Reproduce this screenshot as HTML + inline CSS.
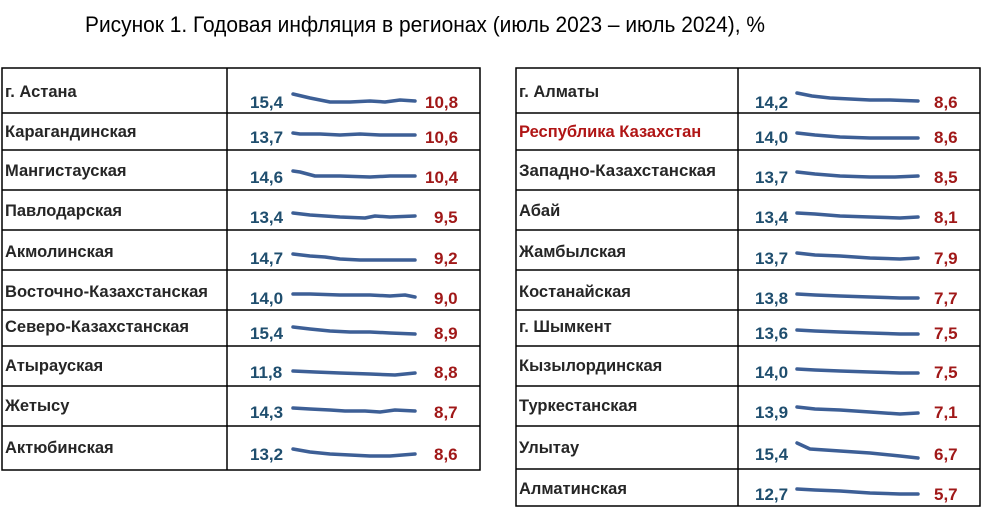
<!DOCTYPE html>
<html><head><meta charset="utf-8"><style>
html,body{margin:0;padding:0;background:#fff;}
svg{display:block}
.l{font:bold 16.5px "Liberation Sans",sans-serif;fill:#262626}
.s{font:bold 17px "Liberation Sans",sans-serif;fill:#1f4e6e}
.e{font:bold 17px "Liberation Sans",sans-serif;fill:#a01818}
.sp{fill:none;stroke:#3d5f96;stroke-width:3.5;stroke-linecap:round;stroke-linejoin:round}
</style></head><body>
<svg width="987" height="511" viewBox="0 0 987 511" xmlns="http://www.w3.org/2000/svg">
<text x="85" y="32" textLength="680" lengthAdjust="spacingAndGlyphs" style="font:22px 'Liberation Sans',sans-serif;fill:#000">Рисунок 1. Годовая инфляция в регионах (июль 2023 – июль 2024), %</text>
<g stroke="#000" stroke-width="1.5" fill="none">
<rect x="2" y="68" width="478" height="402"/>
<line x1="227" y1="68" x2="227" y2="470"/>
<path d="M2 113H480M2 150H480M2 190H480M2 230H480M2 270H480M2 310H480M2 346H480M2 386H480M2 426H480"/>
<rect x="516" y="68" width="464" height="438"/>
<line x1="738" y1="68" x2="738" y2="506"/>
<path d="M516 113H980M516 150H980M516 190H980M516 230H980M516 270H980M516 310H980M516 346H980M516 386H980M516 426H980M516 469H980"/>
</g>
<g class="l">
<text x="5" y="97">г. Астана</text>
<text x="5" y="137">Карагандинская</text>
<text x="5" y="176">Мангистауская</text>
<text x="5" y="216">Павлодарская</text>
<text x="5" y="257">Акмолинская</text>
<text x="5" y="297" textLength="203" lengthAdjust="spacingAndGlyphs">Восточно-Казахстанская</text>
<text x="5" y="332">Северо-Казахстанская</text>
<text x="5" y="371">Атырауская</text>
<text x="5" y="411">Жетысу</text>
<text x="5" y="453">Актюбинская</text>
<text x="519" y="97">г. Алматы</text>
<text x="519" y="137" style="fill:#b01515">Республика Казахстан</text>
<text x="519" y="176" textLength="197" lengthAdjust="spacingAndGlyphs">Западно-Казахстанская</text>
<text x="519" y="216">Абай</text>
<text x="519" y="257">Жамбылская</text>
<text x="519" y="297">Костанайская</text>
<text x="519" y="332">г. Шымкент</text>
<text x="519" y="371">Кызылординская</text>
<text x="519" y="411">Туркестанская</text>
<text x="519" y="453">Улытау</text>
<text x="519" y="494">Алматинская</text>
</g>
<g class="s">
<text x="250" y="108">15,4</text><text x="250" y="143">13,7</text><text x="250" y="183">14,6</text>
<text x="250" y="223">13,4</text><text x="250" y="264">14,7</text><text x="250" y="304">14,0</text>
<text x="250" y="339">15,4</text><text x="250" y="378">11,8</text><text x="250" y="418">14,3</text>
<text x="250" y="460">13,2</text>
<text x="755" y="108">14,2</text><text x="755" y="143">14,0</text><text x="755" y="183">13,7</text>
<text x="755" y="223">13,4</text><text x="755" y="264">13,7</text><text x="755" y="304">13,8</text>
<text x="755" y="339">13,6</text><text x="755" y="378">14,0</text><text x="755" y="418">13,9</text>
<text x="755" y="460">15,4</text><text x="755" y="500">12,7</text>
</g>
<g class="e">
<text x="425" y="108">10,8</text><text x="425" y="143">10,6</text><text x="425" y="183">10,4</text>
<text x="434" y="223">9,5</text><text x="434" y="264">9,2</text><text x="434" y="304">9,0</text>
<text x="434" y="339">8,9</text><text x="434" y="378">8,8</text><text x="434" y="418">8,7</text>
<text x="434" y="460">8,6</text>
<text x="934" y="108">8,6</text><text x="934" y="143">8,6</text><text x="934" y="183">8,5</text>
<text x="934" y="223">8,1</text><text x="934" y="264">7,9</text><text x="934" y="304">7,7</text>
<text x="934" y="339">7,5</text><text x="934" y="378">7,5</text><text x="934" y="418">7,1</text>
<text x="934" y="460">6,7</text><text x="934" y="500">5,7</text>
</g>
<g class="sp">
<path d="M293 94L310 98L330 102L350 102L370 101L385 102L400 100L415 101"/>
<path d="M293 133L300 134L320 134L340 135L360 134L380 135L415 135"/>
<path d="M293 171L300 172L315 176L340 176L370 177L390 176L415 176"/>
<path d="M293 213L310 215L340 217L365 218L375 216L390 217L415 216"/>
<path d="M293 254L310 256L325 257L340 259L360 260L380 260L415 260"/>
<path d="M293 294L310 294L340 295L370 295L390 296L405 295L415 297"/>
<path d="M293 327L310 329L330 331L350 332L370 332L390 333L415 334"/>
<path d="M293 371L315 372L340 373L370 374L395 375L415 373"/>
<path d="M293 408L310 409L330 410L345 411L365 411L380 412L395 410L415 411"/>
<path d="M293 449L310 452L330 454L350 455L370 456L390 456L415 454"/>
<path d="M797 93L812 96L830 98L850 99L870 100L890 100L918 101"/>
<path d="M797 133L815 135L840 137L870 138L895 138L918 138"/>
<path d="M797 172L815 174L840 176L870 177L895 177L918 176"/>
<path d="M797 213L815 214L840 216L870 217L900 218L918 217"/>
<path d="M797 253L815 255L840 256L870 258L900 259L918 258"/>
<path d="M797 294L815 295L840 296L870 297L900 298L918 298"/>
<path d="M797 330L815 331L840 332L870 333L900 334L918 334"/>
<path d="M797 369L815 370L840 371L870 372L900 373L918 373"/>
<path d="M797 407L815 409L840 410L870 412L900 414L918 413"/>
<path d="M797 443L810 449L840 451L870 453L900 456L918 458"/>
<path d="M797 489L815 490L840 491L870 493L900 494L918 494"/>
</g>
</svg>
</body></html>
